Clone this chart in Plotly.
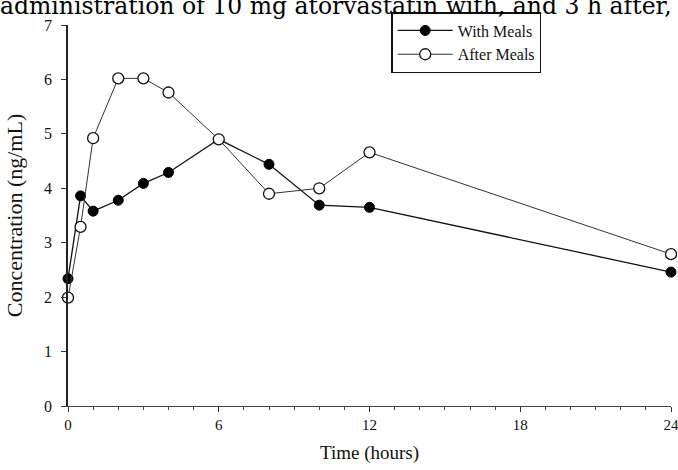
import plotly.graph_objects as go

time_h = [0, 0.5, 1, 2, 3, 4, 6, 8, 10, 12, 24]
with_meals = [2.34, 3.86, 3.58, 3.78, 4.09, 4.29, 4.90, 4.44, 3.69, 3.65, 2.46]
after_meals = [1.99, 3.29, 4.92, 6.02, 6.02, 5.76, 4.90, 3.90, 4.00, 4.66, 2.79]
x_ticks = [0, 6, 12, 18, 24]
y_ticks = [0, 1, 2, 3, 4, 5, 6, 7]

SERIF = "Liberation Serif, Times New Roman, serif"

fig = go.Figure()
fig.add_trace(go.Scatter(
    x=time_h, y=with_meals, name="With Meals", mode="lines+markers",
    line=dict(color="#111111", width=1.3),
    marker=dict(symbol="circle", size=10, color="#000000", line=dict(color="#000000", width=1)),
    cliponaxis=False,
))
fig.add_trace(go.Scatter(
    x=time_h, y=after_meals, name="After Meals", mode="lines+markers",
    line=dict(color="#333333", width=1),
    marker=dict(symbol="circle", size=11, color="#ffffff", line=dict(color="#111111", width=1.3)),
    cliponaxis=False,
))

fig.update_layout(
    width=678, height=470,
    margin=dict(l=68, r=7, t=25, b=64),
    paper_bgcolor="white", plot_bgcolor="white",
    font=dict(family=SERIF, color="#111111", size=14),
    showlegend=True,
    legend=dict(
        x=0.536, y=1.034, xanchor="left", yanchor="top",
        bordercolor="#111111", borderwidth=1.5, bgcolor="white",
        font=dict(family=SERIF, size=16, color="#111111"),
        tracegroupgap=0, itemwidth=55,
    ),
    xaxis=dict(
        range=[0, 24], tickvals=x_ticks, ticktext=[str(v) for v in x_ticks],
        automargin=False, ticklabeloverflow="allow",
        showgrid=False, zeroline=False, showline=True, linecolor="#444444", linewidth=1.2,
        ticks="outside", ticklen=5, tickcolor="#333333", tickwidth=1.2,
        minor=dict(dtick=1, ticks="outside", ticklen=3, tickcolor="#444444", tickwidth=1),
        tickfont=dict(family=SERIF, size=15, color="#111111"),
        title=dict(text="Time (hours)", font=dict(family=SERIF, size=19, color="#111111"), standoff=13),
    ),
    yaxis=dict(
        range=[0, 7], tickvals=y_ticks, ticktext=[str(v) for v in y_ticks],
        automargin=False,
        showgrid=False, zeroline=False, showline=True, linecolor="#222222", linewidth=1.5,
        ticks="outside", ticklen=5, tickcolor="#333333", tickwidth=1.2,
        ticklabelstandoff=6,
        tickfont=dict(family=SERIF, size=16, color="#111111"),
        title=dict(text="Concentration (ng/mL)", font=dict(family=SERIF, size=22, color="#111111"), standoff=15),
    ),
)

fig.add_annotation(
    text="administration of 10 mg atorvastatin with, and 3 h after,",
    xref="paper", yref="paper", x=-0.116, y=1.0499,
    xanchor="left", yanchor="middle", showarrow=False,
    font=dict(family="DejaVu Serif, serif", size=23.5, color="#000000"),
)

fig.write_html("out.html")
